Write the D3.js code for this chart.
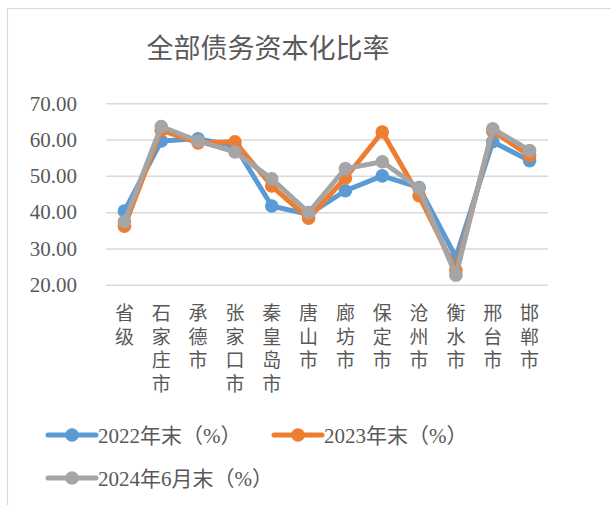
<!DOCTYPE html>
<html>
<head>
<meta charset="utf-8">
<script src="https://cdn.jsdelivr.net/npm/d3@7"></script>
<style>
  html, body { margin: 0; padding: 0; background: #fff; }
  svg { display: block; }
  text { font-family: "Liberation Serif", "Noto Sans CJK SC", serif; fill: #595959; }
</style>
</head>
<body>
<div id="chart"></div>
<script>
// categories and values
const cities = ['省级', '石家庄市', '承德市', '张家口市', '秦皇岛市', '唐山市',
    '廊坊市', '保定市', '沧州市', '衡水市', '邢台市', '邯郸市'];
const ratio2022 = [40.3, 59.6, 60.2, 58.3, 41.7, 39.4, 45.9, 50.0, 46.8, 27.6, 59.4, 54.2];
const ratio2023 = [36.1, 62.6, 59.1, 59.4, 47.2, 38.3, 49.4, 62.1, 44.5, 24.0, 62.3, 55.6];
const ratio2024 = [37.4, 63.6, 59.6, 56.6, 49.2, 39.9, 52.0, 53.9, 46.6, 22.6, 63.0, 57.0];
const yTicks = [20, 30, 40, 50, 60, 70];
const seriesNames = ['2022年末（%）', '2023年末（%）', '2024年6月末（%）'];
const seriesColors = ['#5B9BD5', '#ED7D31', '#A5A5A5'];

const W = 611, H = 505;
const plot = { left: 106, right: 548, top: 103.3, bottom: 284.7 };

const svg = d3.select('#chart').append('svg')
    .attr('width', W)
    .attr('height', H);

// chart border (only top and left are inside the window)
svg.append('path')
    .attr('d', `M7.5,${H} V8.5 H${W}`)
    .attr('fill', 'none')
    .attr('stroke', '#D9D9D9')
    .attr('stroke-width', 1.2);

// title
svg.append('text')
    .attr('x', 268)
    .attr('y', 58)
    .attr('text-anchor', 'middle')
    .style('font-size', '27px')
    .text('全部债务资本化比率');

const x = d3.scaleBand()
    .domain(cities)
    .range([plot.left, plot.right]);

const y = d3.scaleLinear()
    .domain([20, 70])
    .range([plot.bottom, plot.top]);

// y axis with gridlines
const yAxis = svg.append('g')
    .attr('transform', `translate(${plot.left},0)`)
    .call(d3.axisLeft(y)
        .tickValues(yTicks)
        .tickFormat(d3.format('.2f'))
        .tickSize(-(plot.right - plot.left))
        .tickPadding(29));
yAxis.select('.domain').remove();
yAxis.selectAll('.tick line')
    .attr('stroke', '#D9D9D9')
    .attr('stroke-width', 1.5);
yAxis.selectAll('.tick text')
    .attr('fill', '#595959')
    .style('font-family', '"Liberation Serif", serif')
    .style('font-size', '21px');

// x labels, written top to bottom
const xLabels = svg.append('g')
    .selectAll('text')
    .data(cities)
    .join('text')
    .attr('text-anchor', 'middle')
    .style('font-size', '19px');
xLabels.each(function (d) {
    const t = d3.select(this);
    const cx = x(d) + x.bandwidth() / 2;
    Array.from(d).forEach((ch, i) => {
        t.append('tspan')
            .attr('x', cx)
            .attr('y', 320 + i * 23.6)
            .text(ch);
    });
});

// lines and markers
const allSeries = [ratio2022, ratio2023, ratio2024];
const line = d3.line()
    .x((d, i) => x(cities[i]) + x.bandwidth() / 2)
    .y(d => y(d));

allSeries.forEach((values, s) => {
    const g = svg.append('g');
    g.append('path')
        .datum(values)
        .attr('d', line)
        .attr('fill', 'none')
        .attr('stroke', seriesColors[s])
        .attr('stroke-width', 5)
        .attr('stroke-linejoin', 'round')
        .attr('stroke-linecap', 'round');
    g.selectAll('circle')
        .data(values)
        .join('circle')
        .attr('cx', (d, i) => x(cities[i]) + x.bandwidth() / 2)
        .attr('cy', d => y(d))
        .attr('r', 6.8)
        .attr('fill', seriesColors[s]);
});

// legend
const legendPos = [[48, 435], [274, 435], [48, 478]];
seriesNames.forEach((name, s) => {
    const [lx, ly] = legendPos[s];
    const g = svg.append('g').attr('transform', `translate(${lx},${ly})`);
    g.append('line')
        .attr('x1', 0).attr('x2', 48)
        .attr('stroke', seriesColors[s])
        .attr('stroke-width', 5)
        .attr('stroke-linecap', 'round');
    g.append('circle')
        .attr('cx', 24)
        .attr('r', 6.8)
        .attr('fill', seriesColors[s]);
    g.append('text')
        .attr('x', 50)
        .attr('y', 7.5)
        .style('font-size', '21px')
        .text(name);
});
</script>
</body>
</html>
